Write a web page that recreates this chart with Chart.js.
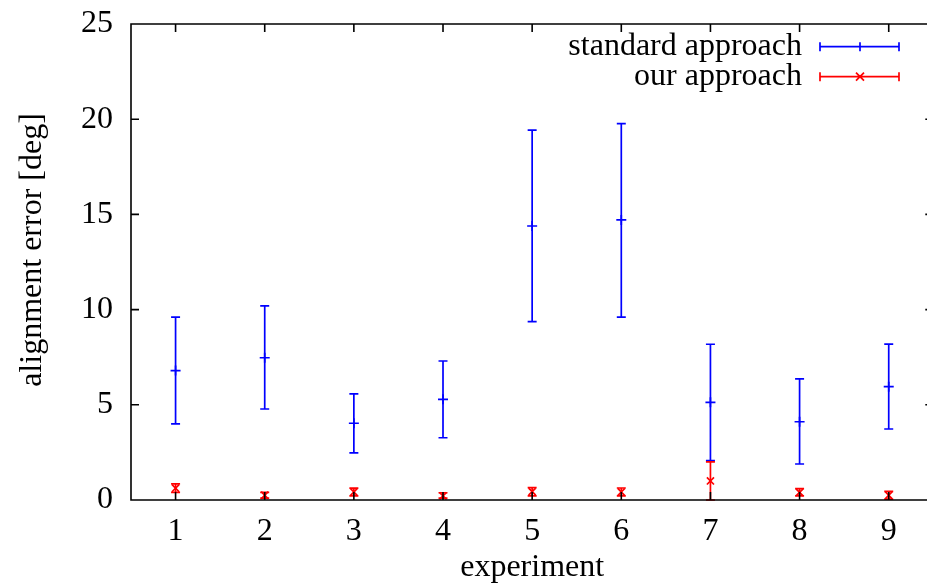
<!DOCTYPE html>
<html>
<head>
<meta charset="utf-8">
<script src="https://cdn.jsdelivr.net/npm/chart.js@4"></script>
<style>
  html, body { margin: 0; padding: 0; overflow: hidden; background: #fff; }
  #wrap { position: absolute; left: 0; top: 0; width: 940px; height: 588px; }
</style>
</head>
<body>
<div id="wrap"><canvas id="errChart"></canvas></div>
<script>
// values
const experiments = [1, 2, 3, 4, 5, 6, 7, 8, 9];
const stdMean = [6.8, 7.47, 4.03, 5.29, 14.39, 14.71, 5.13, 4.11, 5.95];
const stdLow  = [4.0, 4.78, 2.47, 3.27, 9.37, 9.61, 2.07, 1.89, 3.73];
const stdHigh = [9.6, 10.2, 5.57, 7.3, 19.43, 19.77, 8.18, 6.36, 8.19];
const ourMean = [0.62, 0.25, 0.42, 0.22, 0.44, 0.42, 1.0, 0.4, 0.25];
const ourLow  = [0.4, 0.1, 0.22, 0.1, 0.22, 0.22, 0.0, 0.22, 0.05];
const ourHigh = [0.85, 0.4, 0.62, 0.38, 0.65, 0.63, 2.0, 0.6, 0.45];
const yTicks = [0, 5, 10, 15, 20, 25];

const serif = "'Liberation Serif', 'Times New Roman', serif";
const fontPx = 32;
const BLUE = '#0000ff';
const RED = '#ff0000';

const errors = [
  { low: stdLow, high: stdHigh },
  { low: ourLow, high: ourHigh }
];

function drawBar(ctx, x, yLo, yHi, cap) {
  ctx.moveTo(x, yLo); ctx.lineTo(x, yHi);
  ctx.moveTo(x - cap, yLo); ctx.lineTo(x + cap, yLo);
  ctx.moveTo(x - cap, yHi); ctx.lineTo(x + cap, yHi);
}

// vertical error bars with caps
const errorBars = {
  id: 'errorBars',
  beforeDatasetsDraw(chart) {
    const { ctx, scales: { x, y } } = chart;
    ctx.save();
    chart.data.datasets.forEach((ds, i) => {
      ctx.strokeStyle = ds.borderColor;
      ctx.lineWidth = 1.7;
      ctx.beginPath();
      ds.data.forEach((p, j) => {
        drawBar(ctx, x.getPixelForValue(p.x),
          y.getPixelForValue(errors[i].low[j]),
          y.getPixelForValue(errors[i].high[j]), 4.5);
      });
      ctx.stroke();
    });
    ctx.restore();
  }
};

// gnuplot-like box with inward ticks, y label and key
const frame = {
  id: 'frame',
  afterDraw(chart) {
    const { ctx, chartArea: a, scales: { x, y } } = chart;
    ctx.save();
    ctx.strokeStyle = '#000';
    ctx.lineWidth = 1.6;
    ctx.beginPath();
    ctx.rect(a.left, a.top, a.right - a.left, a.bottom - a.top);
    x.ticks.forEach(t => {
      const px = x.getPixelForValue(t.value);
      ctx.moveTo(px, a.bottom); ctx.lineTo(px, a.bottom - 8);
      ctx.moveTo(px, a.top); ctx.lineTo(px, a.top + 8);
    });
    y.ticks.forEach(t => {
      const py = y.getPixelForValue(t.value);
      ctx.moveTo(a.left, py); ctx.lineTo(a.left + 8, py);
      ctx.moveTo(a.right, py); ctx.lineTo(a.right - 8, py);
    });
    ctx.stroke();

    // y axis title
    ctx.fillStyle = '#000';
    ctx.font = fontPx + 'px ' + serif;
    ctx.textAlign = 'center';
    ctx.textBaseline = 'middle';
    ctx.translate(33, 250);
    ctx.rotate(-Math.PI / 2);
    ctx.fillText('alignment error [deg]', 0, 0);
    ctx.setTransform(1, 0, 0, 1, 0, 0);

    // key, top right
    const rows = [46.7, 76.7];
    chart.data.datasets.forEach((ds, i) => {
      const ry = rows[i];
      ctx.fillStyle = '#000';
      ctx.textAlign = 'right';
      ctx.fillText(ds.label, 802, ry);
      ctx.strokeStyle = ds.borderColor;
      ctx.lineWidth = 1.7;
      ctx.beginPath();
      ctx.moveTo(820, ry); ctx.lineTo(899, ry);
      ctx.moveTo(820, ry - 4.5); ctx.lineTo(820, ry + 4.5);
      ctx.moveTo(899, ry - 4.5); ctx.lineTo(899, ry + 4.5);
      if (ds.pointStyle === 'cross') {
        ctx.moveTo(860, ry - 4.5); ctx.lineTo(860, ry + 4.5);
      } else {
        ctx.moveTo(856, ry - 4); ctx.lineTo(864, ry + 4);
        ctx.moveTo(856, ry + 4); ctx.lineTo(864, ry - 4);
      }
      ctx.stroke();
    });
    ctx.restore();
  }
};

const ctx = document.getElementById('errChart').getContext('2d');
new Chart(ctx, {
  type: 'scatter',
  data: {
    datasets: [{
      label: 'standard approach',
      data: experiments.map((e, i) => ({ x: e, y: stdMean[i] })),
      borderColor: BLUE,
      backgroundColor: BLUE,
      pointStyle: 'cross',
      pointRadius: 5,
      pointBorderWidth: 1.7
    }, {
      label: 'our approach',
      data: experiments.map((e, i) => ({ x: e, y: ourMean[i] })),
      borderColor: RED,
      backgroundColor: RED,
      pointStyle: 'crossRot',
      pointRadius: 5,
      pointBorderWidth: 1.7
    }]
  },
  options: {
    responsive: true,
    maintainAspectRatio: false,
    animation: false,
    layout: { padding: { top: 24, right: 6, left: 0, bottom: 0 } },
    plugins: {
      legend: { display: false },
      tooltip: { enabled: false }
    },
    scales: {
      x: {
        type: 'linear',
        min: 0.5,
        max: 9.5,
        afterBuildTicks: s => { s.ticks = experiments.map(v => ({ value: v })); },
        afterFit: s => { s.height = 88; s.paddingLeft = 0; s.paddingRight = 0; },
        grid: { display: false },
        border: { display: false },
        ticks: {
          color: '#000',
          padding: 4,
          font: { family: serif, size: fontPx, lineHeight: 1.2 }
        },
        title: {
          display: true,
          text: 'experiment',
          color: '#000',
          padding: { top: 0, bottom: 1 },
          font: { family: serif, size: fontPx, lineHeight: 1.2 }
        }
      },
      y: {
        min: 0,
        max: 25,
        afterBuildTicks: s => { s.ticks = yTicks.map(v => ({ value: v })); },
        afterFit: s => { s.width = 131; s.paddingTop = 0; s.paddingBottom = 0; },
        grid: { display: false },
        border: { display: false },
        ticks: {
          color: '#000',
          padding: 10,
          font: { family: serif, size: fontPx, lineHeight: 1.2 }
        }
      }
    }
  },
  plugins: [errorBars, frame]
});
</script>
</body>
</html>
